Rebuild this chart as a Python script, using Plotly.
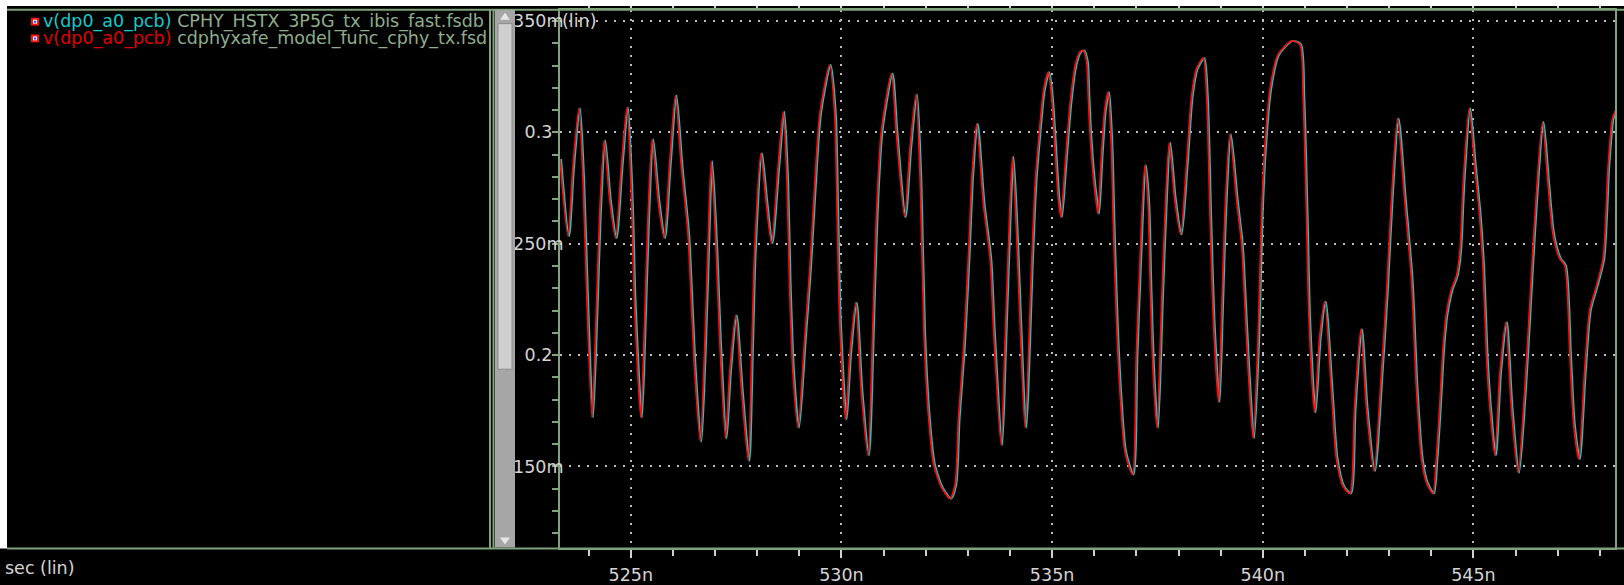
import plotly.graph_objects as go

W, H = 1624, 585

# ---- data ----
time_ns = [
    523.32, 523.51, 523.63, 523.77, 523.87, 523.95, 524.08, 524.19, 524.26, 524.37,
    524.50, 524.64, 524.78, 524.91, 525.02, 525.09, 525.24, 525.33, 525.41, 525.51,
    525.65, 525.79, 525.92, 526.06, 526.20, 526.36, 526.44, 526.52, 526.65, 526.75,
    526.83, 526.91, 527.03, 527.11, 527.25, 527.35, 527.49, 527.63, 527.79, 527.87,
    527.94, 528.09, 528.21, 528.34, 528.50, 528.62, 528.71, 528.77, 528.85, 528.97,
    529.13, 529.25, 529.37, 529.49, 529.72, 529.84, 529.90, 529.96, 530.10, 530.20,
    530.34, 530.47, 530.63, 530.75, 530.83, 530.95, 531.19, 531.30, 531.50, 531.63,
    531.77, 531.87, 531.96, 532.07, 532.19, 532.38, 532.58, 532.70, 532.78, 532.90,
    533.02, 533.10, 533.21, 533.37, 533.53, 533.61, 533.79, 533.88, 533.96, 534.06,
    534.16, 534.24, 534.36, 534.52, 534.60, 534.68, 534.80, 534.91, 534.99, 535.07,
    535.15, 535.21, 535.31, 535.43, 535.55, 535.66, 535.74, 535.82, 535.86, 535.90,
    535.98, 536.04, 536.09, 536.17, 536.25, 536.33, 536.41, 536.45, 536.53, 536.61,
    536.73, 536.91, 537.00, 537.08, 537.20, 537.28, 537.33, 537.40, 537.49, 537.60,
    537.68, 537.78, 537.91, 538.05, 538.19, 538.31, 538.43, 538.59, 538.67, 538.75,
    538.83, 538.95, 539.02, 539.10, 539.22, 539.38, 539.50, 539.58, 539.66, 539.77,
    539.89, 539.97, 540.05, 540.17, 540.36, 540.68, 540.88, 540.96, 541.04, 541.10,
    541.23, 541.35, 541.47, 541.63, 541.75, 541.91, 542.07, 542.18, 542.33, 542.46,
    542.64, 542.82, 542.94, 543.05, 543.20, 543.37, 543.53, 543.65, 543.77, 543.89,
    544.04, 544.12, 544.20, 544.28, 544.36, 544.48, 544.60, 544.68, 544.76, 544.90,
    545.03, 545.15, 545.23, 545.31, 545.39, 545.51, 545.63, 545.77, 545.90, 546.06,
    546.22, 546.34, 546.46, 546.64, 546.77, 546.89, 547.05, 547.17, 547.29, 547.38,
    547.50, 547.64, 547.76, 547.92, 548.08, 548.20, 548.30, 548.38,
]

volts = [
    0.2880, 0.2534, 0.2850, 0.3108, 0.2774, 0.2309, 0.1720, 0.2232, 0.2620, 0.2964,
    0.2697, 0.2526, 0.2850, 0.3112, 0.2697, 0.2232, 0.1720, 0.2154, 0.2620, 0.2968,
    0.2697, 0.2526, 0.2850, 0.3165, 0.2850, 0.2542, 0.2230, 0.1922, 0.1612, 0.2000,
    0.2464, 0.2870, 0.2464, 0.2077, 0.1627, 0.1922, 0.2178, 0.1844, 0.1526, 0.2000,
    0.2464, 0.2906, 0.2697, 0.2503, 0.2850, 0.3092, 0.2774, 0.2309, 0.1922, 0.1674,
    0.2077, 0.2387, 0.2774, 0.3085, 0.3302, 0.3085, 0.2620, 0.2154, 0.1712, 0.2000,
    0.2235, 0.1844, 0.1550, 0.2154, 0.2620, 0.3007, 0.3263, 0.3007, 0.2620, 0.2930,
    0.3170, 0.2790, 0.2100, 0.1720, 0.1510, 0.1405, 0.1356, 0.1420, 0.1720, 0.2027,
    0.2464, 0.2805, 0.3038, 0.2680, 0.2433, 0.2123, 0.1596, 0.2030, 0.2460, 0.2890,
    0.2540, 0.2150, 0.1674, 0.2430, 0.2770, 0.2960, 0.3190, 0.3270, 0.3160, 0.2930,
    0.2700, 0.2620, 0.2850, 0.3130, 0.3300, 0.3360, 0.3367, 0.3320, 0.3160, 0.3000,
    0.2800, 0.2700, 0.2635, 0.2890, 0.3100, 0.3180, 0.2920, 0.2620, 0.2154, 0.1844,
    0.1566, 0.1464, 0.2000, 0.2390, 0.2852, 0.2680, 0.2310, 0.1920, 0.1674, 0.2230,
    0.2620, 0.2953, 0.2700, 0.2542, 0.2850, 0.3160, 0.3286, 0.3333, 0.3160, 0.2620,
    0.2150, 0.1790, 0.2150, 0.2620, 0.2992, 0.2697, 0.2496, 0.2216, 0.1920, 0.1627,
    0.2077, 0.2620, 0.2930, 0.3190, 0.3348, 0.3410, 0.3395, 0.3160, 0.2620, 0.2154,
    0.1743, 0.2077, 0.2240, 0.1844, 0.1534, 0.1410, 0.1379, 0.1767, 0.2116, 0.1767,
    0.1480, 0.1925, 0.2280, 0.2680, 0.3061, 0.2697, 0.2340, 0.1844, 0.1534, 0.1426,
    0.1379, 0.1534, 0.1767, 0.2030, 0.2185, 0.2294, 0.2356, 0.2464, 0.2774, 0.3108,
    0.2852, 0.2620, 0.2387, 0.2000, 0.1767, 0.1550, 0.1922, 0.2147, 0.1767, 0.1472,
    0.1844, 0.2232, 0.2620, 0.3046, 0.2774, 0.2542, 0.2433, 0.2402, 0.2000, 0.1690,
    0.1534, 0.1925, 0.2201, 0.2309, 0.2433, 0.2852, 0.3061, 0.3100,
]

cyan_lag_ns = 0.025   # the ibis trace trails the model trace by about one pixel

x_tick_vals = [525, 530, 535, 540, 545]
x_tick_text = ["525n", "530n", "535n", "540n", "545n"]
y_tick_vals = [0.15, 0.20, 0.25, 0.30, 0.35]
# short labels padded with no-break spaces so they sit centred like the viewer's
y_tick_text = ["150m", "0.2\u00a0\u00a0", "250m", "0.3\u00a0\u00a0", "350m"]

signal_name = "v(dp0_a0_pcb)"
file_ibis = "CPHY_HSTX_3P5G_tx_ibis_fast.fsdb"
file_model = "cdphyxafe_model_func_cphy_tx.fsd"

CYAN = "#12cccc"
RED = "#ff0a0a"
GREEN = "#7fa37b"
FILE_GREEN = "#8eae8e"
TXT = "#d4d4d4"
FONT = "DejaVu Sans"
FS = 17.5

fig = go.Figure()
fig.add_trace(go.Scatter(
    x=[t + cyan_lag_ns for t in time_ns], y=volts, mode="lines",
    line=dict(color=CYAN, width=2.0, shape="spline", smoothing=0.7),
    hoverinfo="skip"))
fig.add_trace(go.Scatter(
    x=time_ns, y=volts, mode="lines",
    line=dict(color=RED, width=1.8, shape="spline", smoothing=0.7),
    hoverinfo="skip"))


def px(x):
    return x / W


def py(y):
    return 1 - y / H


shapes = []


def rect(x0, y0, x1, y1, fill, line_color=None, lw=0):
    shapes.append(dict(type="rect", xref="paper", yref="paper",
                       x0=px(x0), x1=px(x1), y0=py(y1), y1=py(y0),
                       fillcolor=fill, line=dict(color=line_color or fill, width=lw),
                       layer="above"))


def hline(y, x0, x1, color, w):
    shapes.append(dict(type="line", xref="paper", yref="paper",
                       x0=px(x0), x1=px(x1), y0=py(y), y1=py(y),
                       line=dict(color=color, width=w), layer="above"))


def vline(x, y0, y1, color, w):
    shapes.append(dict(type="line", xref="paper", yref="paper",
                       x0=px(x), x1=px(x), y0=py(y0), y1=py(y1),
                       line=dict(color=color, width=w), layer="above"))


# window frame
rect(0, 0, W, 6, "white")
rect(0, 0, 7, 557, "white")
hline(10, 7, W, GREEN, 2)
hline(557, 7, W, GREEN, 2)
# panel divider (double line) and scrollbar
vline(490, 10, 557, GREEN, 2)
vline(493.5, 10, 557, GREEN, 2)
rect(495, 10, 515, 556, "#a6a6a6")
rect(498, 24, 512, 375, "#cfcfcf", "#8c8c8c", 1)
shapes.append(dict(type="path", xref="paper", yref="paper",
                   path=f"M {px(500)} {py(20)} L {px(510)} {py(20)} L {px(505)} {py(13)} Z",
                   fillcolor="#e6e6e6", line=dict(width=0), layer="above"))
shapes.append(dict(type="path", xref="paper", yref="paper",
                   path=f"M {px(500)} {py(546)} L {px(510)} {py(546)} L {px(505)} {py(553)} Z",
                   fillcolor="#e6e6e6", line=dict(width=0), layer="above"))
# legend icons
for yc in (22, 39):
    rect(31, yc - 4, 39, yc + 4, "#ff1010")
    rect(33, yc - 2, 37, yc + 2, "white")
    rect(34, yc - 1, 36, yc + 1, "#2040ff")

annotations = [
    dict(xref="paper", yref="paper", x=px(41), y=py(22), xanchor="left", yanchor="middle",
         showarrow=False, font=dict(family=FONT, size=FS),
         text=f'<span style="color:{CYAN}">{signal_name}</span>'
              f'<span style="color:{FILE_GREEN}"> {file_ibis}</span>'),
    dict(xref="paper", yref="paper", x=px(41), y=py(39), xanchor="left", yanchor="middle",
         showarrow=False, font=dict(family=FONT, size=FS),
         text=f'<span style="color:#e00000">{signal_name}</span>'
              f'<span style="color:{FILE_GREEN}"> {file_model}</span>'),
    dict(xref="paper", yref="y", x=px(560), y=0.35, xanchor="left", yanchor="middle",
         showarrow=False, font=dict(family=FONT, size=FS, color=TXT), text="(lin)"),
    dict(xref="paper", yref="paper", x=px(3), y=py(577), xanchor="left", yanchor="middle",
         showarrow=False, font=dict(family=FONT, size=FS, color=TXT), text="sec (lin)"),
]

fig.update_layout(
    width=W, height=H,
    margin=dict(l=0, r=0, t=0, b=0, pad=0),
    paper_bgcolor="black", plot_bgcolor="black",
    showlegend=False,
    font=dict(family=FONT, size=FS, color=TXT),
    xaxis=dict(
        domain=[px(560), px(1615)], range=[523.32, 548.36],
        showline=True, linecolor=GREEN, linewidth=2, mirror="ticks",
        ticks="outside", ticklen=8, tickwidth=2, tickcolor="#cfcfcf",
        tickvals=x_tick_vals, ticktext=x_tick_text,
        tickfont=dict(family=FONT, size=FS, color=TXT),
        ticklabelstandoff=2,
        showgrid=True, gridcolor="#bdbdbd", gridwidth=1.5, griddash="2px,7px",
        zeroline=False,
        minor=dict(dtick=1, tick0=0, ticks="outside", ticklen=6, tickwidth=2,
                   tickcolor="#cfcfcf", showgrid=False),
    ),
    yaxis=dict(
        domain=[py(557), py(10)], range=[0.1132, 0.3550],
        showline=True, linecolor=GREEN, linewidth=2, mirror=True,
        ticks="outside", ticklen=6, tickwidth=1.5, tickcolor=GREEN,
        tickvals=y_tick_vals, ticktext=y_tick_text,
        tickfont=dict(family=FONT, size=FS, color=TXT),
        ticklabelstandoff=-15,
        showgrid=True, gridcolor="#bdbdbd", gridwidth=1.5, griddash="2px,7px",
        zeroline=False,
        minor=dict(dtick=0.01, tick0=0, ticks="outside", ticklen=6, tickwidth=1.5,
                   tickcolor=GREEN, showgrid=False),
    ),
    shapes=shapes,
    annotations=annotations,
)

fig.write_html("out.html")
